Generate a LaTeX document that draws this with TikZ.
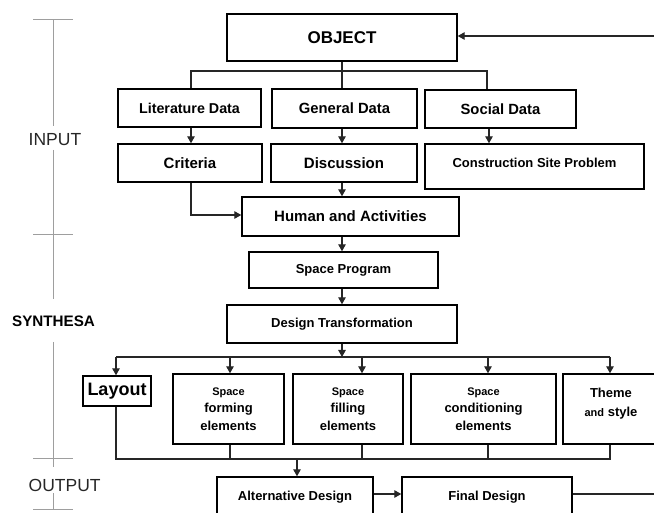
\documentclass[tikz,border=0pt]{standalone}
\usepackage{fontspec}
\setmainfont{Liberation Sans}
\usetikzlibrary{arrows.meta,calc}
\newcommand{\fs}[1]{\fontsize{#1}{#1}\selectfont}
\begin{document}
\begin{tikzpicture}[x=1pt,y=-1pt,
  box/.style={draw=black,line width=1.4pt,inner sep=0pt,align=center,font=\bfseries},
  txt/.style={inner sep=0pt,align=center,font=\bfseries},
  conn/.style={draw=black!85,line width=1.1pt},
  arr/.style={conn,-{Triangle[length=7pt,width=7.5pt]}},
  scl/.style={draw=black!38,line width=1pt}]
\clip (0,0) rectangle (654,513);
\fill[white] (0,0) rectangle (654,513);
% scale
\draw[scl] (53,20) -- (53,126);
\draw[scl] (53,150) -- (53,299);
\draw[scl] (53,342) -- (53,467);
\draw[scl] (53,493) -- (53,509);
\draw[scl] (33,20) -- (73,20);
\draw[scl] (33,235) -- (73,235);
\draw[scl] (33,458) -- (73,458);
\draw[scl] (33,509) -- (73,509);
\node[inner sep=0pt,anchor=west,text=black!85,font=\fs{17.5}] (inp) at (28.5,140) {INPUT};
\node[txt,font=\bfseries\fs{15.2}] (syn) at (53.5,321) {SYNTHESA};
\node[inner sep=0pt,anchor=west,text=black!85,font=\fs{17.5}] (outp) at (28.5,485) {OUTPUT};
% boxes
\node[box,minimum width=230pt,minimum height=47pt,font=\bfseries\fs{17}] (obj) at (342,37.5) {OBJECT};
\node[box,minimum width=143pt,minimum height=38pt,font=\bfseries\fs{14.3}] (lit) at (189.5,108) {Literature Data};
\node[box,minimum width=145pt,minimum height=39pt,font=\bfseries\fs{14.8}] (gen) at (344.5,108.5) {General Data};
\node[box,minimum width=151pt,minimum height=38pt,font=\bfseries\fs{14.8}] (soc) at (500.5,109) {Social Data};
\node[box,minimum width=144pt,minimum height=38pt,font=\bfseries\fs{15}] (cri) at (190,163) {Criteria};
\node[box,minimum width=146pt,minimum height=38pt,font=\bfseries\fs{15}] (dis) at (344,163) {Discussion};
\node[box,minimum width=219pt,minimum height=45pt] (con) at (534.5,166.5) {};
\node[txt,font=\bfseries\fs{13}] (cont) at (534.5,162.5) {Construction Site Problem};
\node[box,minimum width=217pt,minimum height=39pt,font=\bfseries\fs{15}] (hum) at (350.5,216.5) {Human and Activities};
\node[box,minimum width=189pt,minimum height=36pt,font=\bfseries\fs{13}] (sp) at (343.5,270) {Space Program};
\node[box,minimum width=230pt,minimum height=38pt,font=\bfseries\fs{13}] (dt) at (342,324) {Design Transformation};
\node[box,minimum width=68pt,minimum height=30pt,font=\bfseries\fs{18}] (lay) at (117,391) {Layout};
\node[box,minimum width=111pt,minimum height=70pt,font=\bfseries\fs{13}] (form) at (228.5,409) {{\fs{11}Space}\\[4.5pt]forming\\[4.5pt]elements};
\node[box,minimum width=110pt,minimum height=70pt,font=\bfseries\fs{13}] (fill) at (348,409) {{\fs{11}Space}\\[4.5pt]filling\\[4.5pt]elements};
\node[box,minimum width=145pt,minimum height=70pt,font=\bfseries\fs{13}] (cond) at (483.5,409) {{\fs{11}Space}\\[4.5pt]conditioning\\[4.5pt]elements};
\node[box,minimum width=96pt,minimum height=70pt] (theme) at (611,409) {};
\node[txt,font=\bfseries\fs{13}] (themet) at (611,403.5) {Theme\\[6pt]{\fs{11}and} style};
\node[box,minimum width=156pt,minimum height=40pt,font=\bfseries\fs{13}] (alt) at (295,497) {Alternative Design};
\node[box,minimum width=170pt,minimum height=40pt,font=\bfseries\fs{13}] (fin) at (487,497) {Final Design};
% helper coordinates
\coordinate (ba) at (191,71);
\coordinate (bb) at (487,71);
\coordinate (sx) at (489,0);
\coordinate (b1) at (342,357);
\coordinate (bL) at (116,357);
\coordinate (bF) at (230,357);
\coordinate (bI) at (362,357);
\coordinate (bC) at (488,357);
\coordinate (bT) at (610,357);
\coordinate (b2) at (297,459);
\coordinate (rR) at (656,494);
\coordinate (rT) at (656,36);
% connectors
\draw[conn] (obj.south) -- (obj.south |- gen.north);
\draw[conn] (ba |- lit.north) -- (ba) -- (bb) -- (bb |- soc.north);
\draw[arr] (ba |- lit.south) -- (ba |- cri.north);
\draw[arr] (obj.south |- gen.south) -- (obj.south |- dis.north);
\draw[arr] (sx |- soc.south) -- (sx |- con.north);
\draw[arr] (ba |- cri.south) -- (ba |- 0,215) -- (hum.west |- 0,215);
\draw[arr] (obj.south |- dis.south) -- (obj.south |- hum.north);
\draw[arr] (obj.south |- hum.south) -- (obj.south |- sp.north);
\draw[arr] (obj.south |- sp.south) -- (obj.south |- dt.north);
\draw[arr] (obj.south |- dt.south) -- (b1);
\draw[conn] (bL) -- (bT);
\draw[arr] (bL) -- (bL |- lay.north);
\draw[arr] (bF) -- (bF |- form.north);
\draw[arr] (bI) -- (bI |- fill.north);
\draw[arr] (bC) -- (bC |- cond.north);
\draw[arr] (bT) -- (bT |- theme.north);
\draw[conn] (bL |- lay.south) -- (bL |- b2) -- (bT |- b2) -- (bT |- theme.south);
\draw[conn] (bF |- form.south) -- (bF |- b2);
\draw[conn] (bI |- fill.south) -- (bI |- b2);
\draw[conn] (bC |- cond.south) -- (bC |- b2);
\draw[arr] (b2) -- (b2 |- alt.north);
\draw[arr] (alt.east |- rR) -- (fin.west |- rR);
\draw[conn] (fin.east |- rR) -- (rR);
\draw[arr] (rT) -- (obj.east |- rT);
\end{tikzpicture}
\end{document}
